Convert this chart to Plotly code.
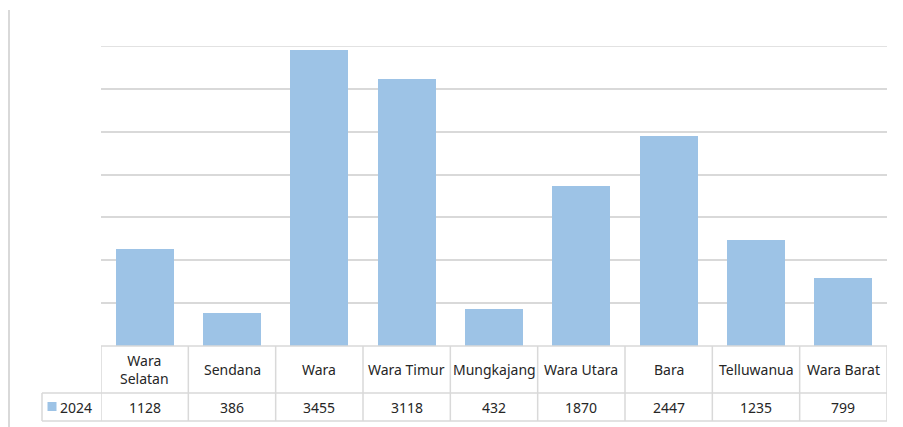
import plotly.graph_objects as go

categories = ["Wara Selatan", "Sendana", "Wara", "Wara Timur", "Mungkajang",
              "Wara Utara", "Bara", "Telluwanua", "Wara Barat"]
header_labels = ["Wara<br>Selatan", "Sendana", "Wara", "Wara Timur", "Mungkajang",
                 "Wara Utara", "Bara", "Telluwanua", "Wara Barat"]
values_2024 = [1128, 386, 3455, 3118, 432, 1870, 2447, 1235, 799]
series_name = "2024"

OFF = 8  # page body margin
W, H = 903 - OFF, 427 - OFF
BAR = "#9DC3E6"
GRID = "#d9d9d9"
BORDER = "#d9d9d9"
TXT = "#262626"
FONT = "Noto Sans"
FS = 14

def py(p):
    return (H - (p - OFF)) / H

def px(p):
    return (p - OFF) / W

x0_pix, x1_pix = 101, 887
base_pix, top_pix = 346, 46
row_mid, row_bot = 393, 421
left_cell = 42
YMAX = 3500

fig = go.Figure()
fig.add_trace(go.Bar(
    x=list(range(len(categories))), y=values_2024, name=series_name,
    marker=dict(color=BAR, line=dict(width=0)), width=0.664,
    hoverinfo="skip", showlegend=False,
))

shapes = []
# top gridline
shapes.append(dict(type="line", xref="x", yref="y", x0=-0.5, x1=len(categories) - 0.5,
                   y0=YMAX, y1=YMAX, line=dict(color=GRID, width=1.5), layer="below"))
# table top line and row lines (category part)
for yy in [base_pix, row_mid, row_bot]:
    shapes.append(dict(type="line", xref="x", yref="paper", x0=-0.5, x1=len(categories) - 0.5,
                       y0=py(yy), y1=py(yy), line=dict(color=BORDER, width=1.5)))
# left cell horizontal lines
for yy in [row_mid, row_bot]:
    shapes.append(dict(type="line", xref="paper", yref="paper", x0=px(left_cell), x1=px(x0_pix),
                       y0=py(yy), y1=py(yy), line=dict(color=BORDER, width=1.5)))
# vertical separators
for i in range(len(categories) + 1):
    shapes.append(dict(type="line", xref="x", yref="paper", x0=i - 0.5, x1=i - 0.5,
                       y0=py(base_pix), y1=py(row_bot), line=dict(color=BORDER, width=1.5)))
shapes.append(dict(type="line", xref="paper", yref="paper", x0=px(left_cell), x1=px(left_cell),
                   y0=py(row_mid), y1=py(row_bot), line=dict(color=BORDER, width=1.5)))
# legend key
shapes.append(dict(type="rect", xref="paper", yref="paper", x0=px(47.5), x1=px(56.5),
                   y0=py(411), y1=py(402), fillcolor=BAR, line=dict(width=0)))
# left frame line
shapes.append(dict(type="line", xref="paper", yref="paper", x0=px(9), x1=px(9),
                   y0=py(10), y1=0, line=dict(color=BORDER, width=2)))

annotations = []
hdr_y = (base_pix + row_mid) / 2
val_y = (row_mid + row_bot) / 2
for i, (lab, v) in enumerate(zip(header_labels, values_2024)):
    annotations.append(dict(x=i, y=py(hdr_y), xref="x", yref="paper", text=lab, showarrow=False,
                            font=dict(family=FONT, size=FS, color=TXT), xanchor="center", yanchor="middle"))
    annotations.append(dict(x=i, y=py(val_y), xref="x", yref="paper", text=str(v), showarrow=False,
                            font=dict(family=FONT, size=FS, color=TXT), xanchor="center", yanchor="middle"))
annotations.append(dict(x=px(58), y=py(val_y), xref="paper", yref="paper", text=series_name, showarrow=False,
                        font=dict(family=FONT, size=FS, color=TXT), xanchor="left", yanchor="middle"))

fig.update_layout(
    width=W, height=H, margin=dict(l=0, r=0, t=0, b=0),
    paper_bgcolor="white", plot_bgcolor="white",
    xaxis=dict(domain=[px(x0_pix), px(x1_pix)], range=[-0.5, len(categories) - 0.5],
               showticklabels=False, showgrid=False, zeroline=False, showline=False, ticks=""),
    yaxis=dict(domain=[py(base_pix), py(top_pix)], range=[0, YMAX], dtick=500,
               showticklabels=False, showgrid=True, gridcolor=GRID, gridwidth=1.5,
               zeroline=False, showline=False, ticks=""),
    shapes=shapes, annotations=annotations, bargap=0,
)

fig.write_html("out.html")
